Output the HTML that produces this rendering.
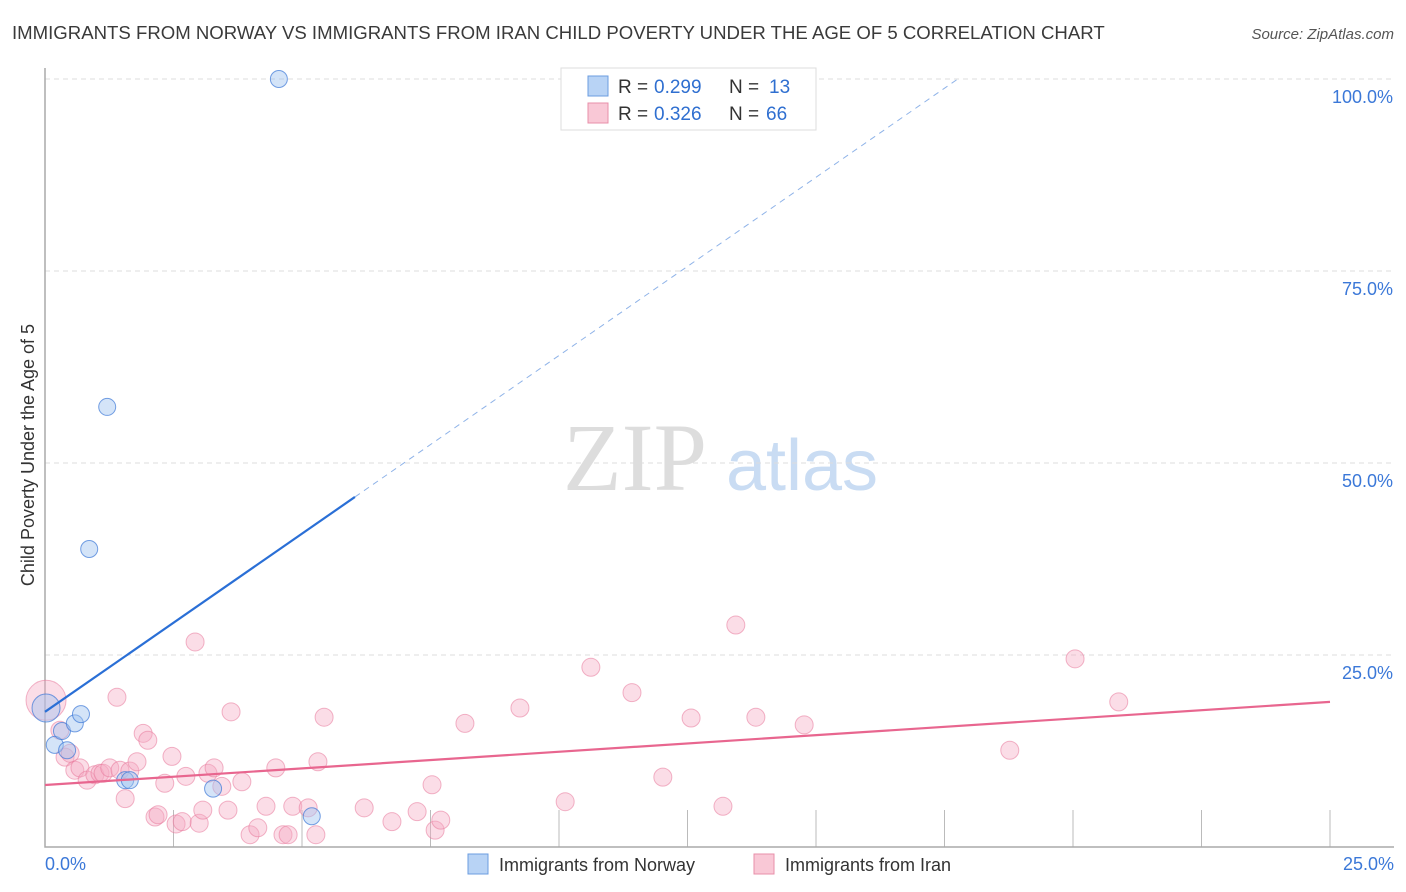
<!DOCTYPE html>
<html><head><meta charset="utf-8"><style>
body{margin:0;background:#fff;font-family:"Liberation Sans",sans-serif;}
svg{display:block}
</style></head><body>
<svg id="c" width="1406" height="892">
<text x="12" y="39" font-size="18.6" fill="#3a3a3a">IMMIGRANTS FROM NORWAY VS IMMIGRANTS FROM IRAN CHILD POVERTY UNDER THE AGE OF 5 CORRELATION CHART</text>
<text x="1394" y="39" font-size="15" font-style="italic" fill="#555" text-anchor="end">Source: ZipAtlas.com</text>
<g><text x="635" y="490" font-size="96" font-family="Liberation Serif,serif" fill="#ddd" text-anchor="middle">ZIP</text><text x="802" y="490" font-size="72" fill="#c9dcf3" text-anchor="middle">atlas</text></g>
<g id="grid"></g><g id="marks"></g>
<text transform="translate(34,455) rotate(-90)" font-size="18" fill="#333" text-anchor="middle">Child Poverty Under the Age of 5</text>
<g>
<rect x="561" y="68" width="255" height="62" fill="#fff" stroke="#ddd"/>
<rect x="588" y="76" width="20" height="20" fill="#b8d3f5" stroke="#6b9de0"/>
<text x="618" y="93" font-size="19" fill="#333">R = </text><text x="654" y="93" font-size="19" fill="#2f6fd0">0.299</text>
<text x="729" y="93" font-size="19" fill="#333">N = </text><text x="769" y="93" font-size="19" fill="#2f6fd0">13</text>
<rect x="588" y="103" width="20" height="20" fill="#f9c8d6" stroke="#e88fa9"/>
<text x="618" y="120" font-size="19" fill="#333">R = </text><text x="654" y="120" font-size="19" fill="#2f6fd0">0.326</text>
<text x="729" y="120" font-size="19" fill="#333">N = </text><text x="766" y="120" font-size="19" fill="#2f6fd0">66</text>
</g>
<g>
<rect x="468" y="854" width="20" height="20" fill="#b8d3f5" stroke="#6b9de0"/>
<text x="499" y="871" font-size="18" fill="#333">Immigrants from Norway</text>
<rect x="754" y="854" width="20" height="20" fill="#f9c8d6" stroke="#e88fa9"/>
<text x="785" y="871" font-size="18" fill="#333">Immigrants from Iran</text>
</g>
</svg>
<script>
const xTicks=[0,2.5,5,7.5,10,12.5,15,17.5,20,22.5,25];
const yTicks=[25,50,75,100];
const yTickLabels=["25.0%","50.0%","75.0%","100.0%"];
const xEndLabels=["0.0%","25.0%"];
const norwayX=[0.02,0.19,0.33,0.43,0.58,0.70,0.86,1.21,1.56,1.65,3.27,4.55,5.19];
const norwayY=[18.1,13.3,15.1,12.6,16.1,17.3,38.8,57.3,8.7,8.7,7.6,100,4.0];
const iranX=[0.02,0.29,0.39,0.49,0.58,0.68,0.82,0.97,1.07,1.13,1.26,1.40,1.46,1.56,1.65,1.79,1.91,2.00,2.14,2.20,2.33,2.47,2.55,2.67,2.74,2.92,3.00,3.07,3.17,3.29,3.44,3.56,3.62,3.83,3.99,4.14,4.30,4.49,4.63,4.73,4.82,5.12,5.27,5.31,5.43,6.21,6.75,7.24,7.53,7.59,7.70,8.17,9.24,10.12,10.62,11.42,12.02,12.57,13.19,13.44,13.83,14.77,18.77,20.04,20.89];
const iranY=[19.1,15.2,11.7,12.2,10.0,10.3,8.7,9.4,9.6,9.6,10.3,19.5,10.0,6.3,9.9,11.1,14.8,13.9,3.9,4.2,8.3,11.8,3.0,3.3,9.2,26.7,3.1,4.8,9.6,10.3,7.9,4.8,17.6,8.5,1.6,2.5,5.3,10.3,1.6,1.6,5.3,5.1,1.6,11.1,16.9,5.1,3.3,4.6,8.1,2.2,3.5,16.1,18.1,5.9,23.4,20.1,9.1,16.8,5.3,28.9,16.9,15.9,12.6,24.5,18.9];
const norwayTrend=[17.6,4.64]; // intercept, slope
const iranTrend=[8.07,0.433];
const X=v=>45+v*51.4, Y=v=>847-v*7.68;
const NS="http://www.w3.org/2000/svg";
function mk(t,a,p){const e=document.createElementNS(NS,t);for(const k in a)e.setAttribute(k,a[k]);p.appendChild(e);return e;}
const g=document.getElementById('grid'),m=document.getElementById('marks');
yTicks.forEach((t,i)=>{
 const l=mk('line',{x1:45,x2:1394,y1:Y(t),y2:Y(t),stroke:'#ddd','stroke-dasharray':'5,4'},g);
 
 
 const tx=mk('text',{x:1393,y:Y(t)+24,'font-size':18,fill:'#3b78d8','text-anchor':'end'},g);tx.textContent=yTickLabels[i];
 
 
});
xTicks.forEach((t,i)=>{if(i==0)return;
 const l=mk('line',{x1:X(t),x2:X(t),y1:810,y2:847,stroke:'#bbb'},g);
 
 
});
const ax=mk('path',{d:'M45 68V847H1394',fill:'none',stroke:'#aaa','stroke-width':1.5},g);


const xl0=mk('text',{x:45,y:870,'font-size':18,fill:'#3b78d8'},g);xl0.textContent=xEndLabels[0];


const xl1=mk('text',{x:1394,y:870,'font-size':18,fill:'#3b78d8','text-anchor':'end'},g);xl1.textContent=xEndLabels[1];


iranX.forEach((v,i)=>{const c=mk('circle',{cx:X(v),cy:Y(iranY[i]),r:i==0?20:9,fill:'rgba(246,170,195,0.4)',stroke:'rgba(232,120,155,0.55)','stroke-width':1},m);
 
 });
norwayX.forEach((v,i)=>{const c=mk('circle',{cx:X(v),cy:Y(norwayY[i]),r:i==0?14:8.5,fill:'rgba(160,195,240,0.45)',stroke:'rgba(60,120,215,0.7)','stroke-width':1},m);
 
 });
const f=(tr,x)=>tr[0]+tr[1]*x;
const nl=mk('line',{x1:X(0),y1:Y(f(norwayTrend,0)),x2:X(6.03),y2:Y(f(norwayTrend,6.03)),stroke:'#2a6fd6','stroke-width':2.2},m);


const nd=mk('line',{x1:X(6.03),y1:Y(f(norwayTrend,6.03)),x2:X(17.75),y2:Y(f(norwayTrend,17.75)),stroke:'#8fb3e8','stroke-width':1,'stroke-dasharray':'6,5'},m);


const il=mk('line',{x1:X(0),y1:Y(f(iranTrend,0)),x2:X(25),y2:Y(f(iranTrend,25)),stroke:'#e8668f','stroke-width':2.2},m);


</script>
</body></html>
